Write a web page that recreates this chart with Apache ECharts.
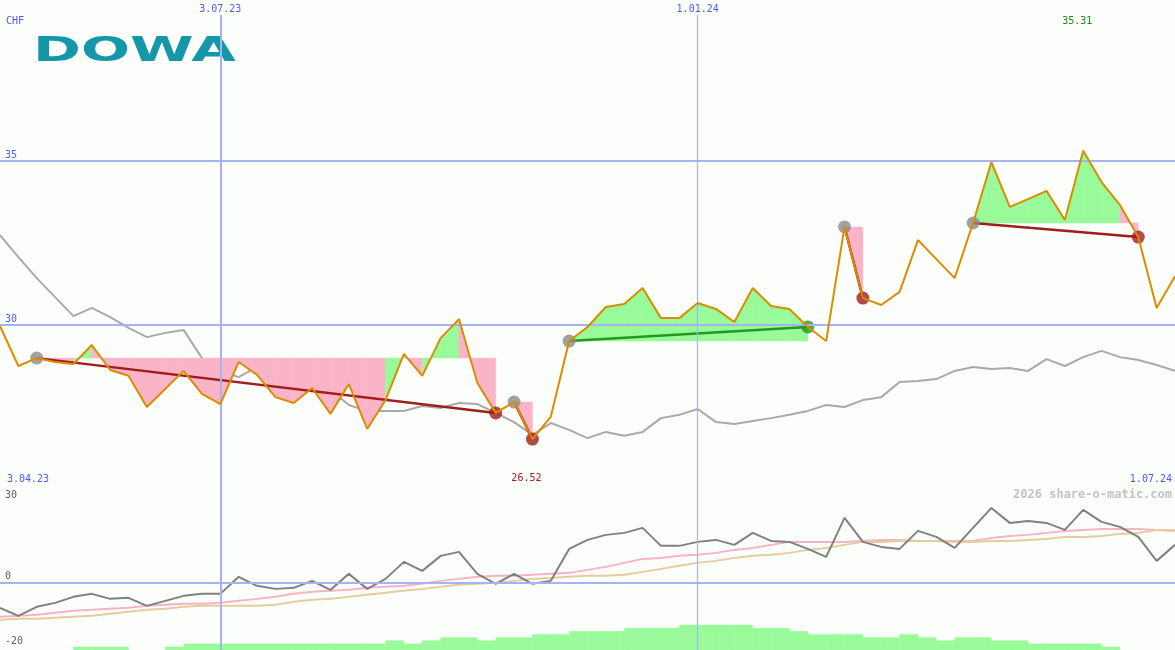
<!DOCTYPE html>
<html><head><meta charset="utf-8">
<script src="https://cdn.jsdelivr.net/npm/echarts@6/dist/echarts.min.js"></script>
<style>html,body{margin:0;padding:0;background:#fcfefc}#c{width:1175px;height:650px}</style>
</head><body><div id="c"></div><script>
// ---------- data ----------
const firstWeek = [2023, 3, 10]; // weekly categories start (UTC y, m0, d)
const weekCount = 65;
const topTicks = ['3.07.23', '1.01.24'];
const cornerLabels = ['3.04.23', '1.07.24'];
const upperTicks = [30, 35];
const lowerLineTicks = [0];
const lowerLabelOnly = [30, -20];
const currency = 'CHF';
const title = 'DOWA';
const credit = '2026 share-o-matic.com';

const price = [29.97, 28.75, 28.99, 28.87, 28.81, 29.39, 28.63, 28.45, 27.50, 28.05,
  28.60, 27.90, 27.59, 28.87, 28.48, 27.80, 27.62, 28.08, 27.29, 28.20,
  26.83, 27.71, 29.12, 28.45, 29.60, 30.18, 28.23, 27.32, 27.65, 26.52,
  27.20, 29.51, 29.94, 30.55, 30.64, 31.13, 30.21, 30.21, 30.67, 30.49,
  30.09, 31.13, 30.58, 30.49, 29.94, 29.51, 32.99, 30.82, 30.61, 31.01,
  32.59, 32.01, 31.43, 33.11, 34.97, 33.60, 33.84, 34.09, 33.20, 35.31,
  34.36, 33.66, 32.68, 30.52, 31.49];
const priceAvg = [32.74, 32.07, 31.43, 30.85, 30.27, 30.52, 30.24, 29.91, 29.63, 29.76,
  29.85, 28.99, 28.60, 28.41, 28.72, 28.41, 28.17, 28.05, 28.02, 27.56,
  27.38, 27.38, 27.38, 27.53, 27.47, 27.62, 27.59, 27.32, 27.04, 26.65,
  27.01, 26.80, 26.55, 26.74, 26.62, 26.74, 27.16, 27.26, 27.44, 27.04,
  26.98, 27.07, 27.16, 27.26, 27.38, 27.56, 27.50, 27.71, 27.80, 28.26,
  28.29, 28.35, 28.60, 28.72, 28.66, 28.69, 28.60, 28.96, 28.75, 29.02,
  29.21, 29.02, 28.93, 28.78, 28.60];
const trendStart = [2, 28, 31, 46, 53];
const trendEnd = [27, 29, 44, 47, 62];

const perf = [-8.52, -11.25, -8.18, -6.82, -4.77, -3.75, -5.46, -5.11, -7.84, -6.14,
  -4.43, -3.75, -3.75, 2.05, -1.02, -2.05, -1.70, 0.68, -2.39, 3.07,
  -2.05, 1.36, 7.16, 4.09, 9.21, 10.57, 3.07, -0.34, 3.07, -0.34,
  0.68, 11.59, 14.66, 16.37, 17.05, 18.75, 12.62, 12.62, 13.98, 14.66,
  12.96, 17.05, 14.32, 13.98, 11.59, 8.86, 22.16, 13.98, 12.27, 11.59,
  17.73, 15.68, 11.93, 18.75, 25.57, 20.46, 21.14, 20.46, 18.07, 24.89,
  20.80, 19.09, 15.68, 7.50, 12.96];
const perfPink = [-11.59, -11.25, -10.91, -10.23, -9.55, -9.21, -8.86, -8.52, -7.84, -7.50,
  -7.16, -7.16, -6.82, -6.14, -5.46, -4.77, -3.75, -3.07, -2.73, -2.39,
  -1.70, -1.36, -1.02, -0.34, 0.68, 1.36, 2.05, 2.39, 2.39, 2.73,
  3.07, 3.41, 4.43, 5.46, 6.82, 8.18, 8.52, 9.21, 9.55, 10.23,
  11.25, 11.93, 12.96, 13.98, 13.98, 13.98, 13.98, 14.32, 14.66, 14.66,
  14.32, 14.32, 14.32, 14.32, 15.34, 16.02, 16.37, 17.05, 17.73, 18.07,
  18.41, 18.41, 18.41, 18.07, 17.73];
const perfTan = [-12.62, -12.27, -12.27, -11.93, -11.59, -11.25, -10.57, -9.89, -9.21, -8.86,
  -8.18, -7.84, -7.84, -7.84, -7.84, -7.50, -6.48, -5.80, -5.46, -4.77,
  -4.09, -3.41, -2.73, -2.05, -1.36, -0.68, -0.34, 0.00, 0.68, 1.36,
  1.70, 2.05, 2.39, 2.39, 2.73, 3.75, 4.77, 5.80, 6.82, 7.50,
  8.52, 9.21, 9.55, 10.23, 11.25, 11.93, 12.96, 13.98, 13.98, 14.32,
  14.32, 14.32, 13.98, 13.98, 14.32, 14.32, 14.66, 15.00, 15.68, 15.68,
  16.02, 16.71, 17.05, 18.07, 18.07];
const volumeLevel = [0, 0, 0, 0, 1, 1, 1, 0, 0, 1,
  2, 2, 2, 2, 2, 2, 2, 2, 2, 2,
  2, 3, 2, 3, 4, 4, 3, 4, 4, 5,
  5, 6, 6, 6, 7, 7, 7, 8, 8, 8,
  8, 7, 7, 6, 5, 5, 5, 4, 4, 5,
  4, 3, 4, 4, 3, 3, 2, 2, 2, 2,
  1, 0, 0, 0];

// ---------- build ----------
const dates = [];
{
  let t = Date.UTC(firstWeek[0], firstWeek[1], firstWeek[2]);
  for (let i = 0; i < weekCount; i++) {
    const d = new Date(t);
    dates.push(d.getUTCDate() + '.' + String(d.getUTCMonth() + 1).padStart(2, '0') + '.' + String(d.getUTCFullYear()).slice(2));
    t += 7 * 86400000;
  }
}
const topTickIdx = topTicks.map(t => dates.indexOf(t));

const BG = '#fcfefc', BLUE = '#4a5cf2', GRIDC = '#a6b2f2', MONO = 'DejaVu Sans Mono';
const FILL_G = '#98fa98', FILL_P = '#fab4c8', DRED = '#a11c1c', DGREEN = '#1f9a1f';
const UP_MIN = 25.06, UP_MAX = 39.91, UP_VTOP = 39.45;
const LO_MIN = -22.9, LO_MAX = 32.7;

const fillData = [];
trendStart.forEach((s, k) => {
  const L = price[s];
  for (let i = s; i < trendEnd[k]; i++) fillData.push([i, price[i], price[i + 1], L]);
});
const trendData = trendStart.map((s, k) => [s, price[s], trendEnd[k], price[trendEnd[k]]]);
const startMarks = trendStart.map(s => [s, price[s]]);
const endMarks = trendEnd.map((e, k) => ({ value: [e, price[e]], itemStyle: { color: price[e] >= price[trendStart[k]] ? DGREEN : DRED } }));
const volData = volumeLevel.map((v, i) => [i, v]).filter(d => d[1] > 0);

const maxVal = Math.max(...price), minVal = Math.min(...price);
const maxIdx = price.indexOf(maxVal), minIdx = price.indexOf(minVal);

const chart = echarts.init(document.getElementById('c'));
const lbl = { fontFamily: MONO, fontSize: 10 };

chart.setOption({
  animation: false,
  backgroundColor: BG,
  grid: [
    { left: 0, right: 0, top: 0, height: 487 },
    { left: 0, right: 0, top: 487, height: 163 },
    { left: 0, right: 0, top: 487, height: 163 }
  ],
  xAxis: [
    { gridIndex: 0, type: 'category', data: dates, boundaryGap: false, position: 'top',
      axisLine: { show: false }, axisTick: { show: false }, splitLine: { show: false },
      axisLabel: Object.assign({ inside: true, margin: 4, color: BLUE, interval: (i) => topTickIdx.includes(i) }, lbl) },
    { gridIndex: 1, type: 'category', data: dates, boundaryGap: false, position: 'top',
      axisLine: { show: true, lineStyle: { color: '#7a88ee', width: 2 } }, axisTick: { show: false },
      axisLabel: { show: false }, splitLine: { show: false } },
    { gridIndex: 2, type: 'category', data: dates, boundaryGap: false, show: false }
  ],
  yAxis: [
    { gridIndex: 0, type: 'value', min: UP_MIN, max: UP_MAX, show: false },
    { gridIndex: 1, type: 'value', min: LO_MIN, max: LO_MAX, show: false },
    { gridIndex: 2, type: 'value', min: 0, max: 52.2, show: false }
  ],
  graphic: [
    { type: 'text', left: 6, top: 16, style: { text: currency, fill: BLUE, font: '10px ' + MONO } },
    { type: 'text', x: 58, y: 62, scaleX: 1.52, scaleY: 0.9, originX: 48, originY: 69,
      style: { text: title, fill: '#1597aa', font: 'bold 38px "DejaVu Sans"', textVerticalAlign: 'bottom' } },
    { type: 'text', left: 7, top: 474, style: { text: cornerLabels[0], fill: BLUE, font: '10px ' + MONO } },
    { type: 'text', right: 3, top: 474, style: { text: cornerLabels[1], fill: BLUE, font: '10px ' + MONO } },
    { type: 'text', right: 3, top: 489, style: { text: credit, fill: '#c2c2c2', font: 'bold 12px ' + MONO } }
  ],
  series: [
    { type: 'line', xAxisIndex: 0, yAxisIndex: 0, data: priceAvg, symbol: 'none', z: 1,
      lineStyle: { color: '#a9a9a9', width: 2 },
      markLine: { silent: true, symbol: 'none',
        data: upperTicks.map(v => ({ yAxis: v, lineStyle: { color: GRIDC, width: 2, type: 'solid' },
          label: Object.assign({ show: true, position: 'insideStartTop', distance: [5, 1], color: BLUE, formatter: String(v) }, lbl) })) } },
    { type: 'custom', xAxisIndex: 0, yAxisIndex: 0, data: fillData, z: 2, silent: true,
      renderItem(params, api) {
        const i = api.value(0), p0 = api.value(1), p1 = api.value(2), L = api.value(3);
        const col = p1 >= L ? FILL_G : FILL_P;
        return { type: 'polygon', shape: { points: [api.coord([i, L]), api.coord([i, p0]), api.coord([i + 1, p1]), api.coord([i + 1, L])] },
          style: { fill: col, stroke: col, lineWidth: 0.5 } };
      } },
    { type: 'custom', xAxisIndex: 0, yAxisIndex: 0, data: trendData, z: 3, silent: true,
      encode: { x: [0, 2], y: [1, 3] },
      renderItem(params, api) {
        const a = api.coord([api.value(0), api.value(1)]), b = api.coord([api.value(2), api.value(3)]);
        return { type: 'line', shape: { x1: a[0], y1: a[1], x2: b[0], y2: b[1] },
          style: { stroke: api.value(3) >= api.value(1) ? DGREEN : DRED, lineWidth: 2.5 } };
      },
      markLine: { silent: true, symbol: 'none',
        data: topTickIdx.map((ix, k) => [
          { coord: [ix, UP_VTOP], lineStyle: { color: GRIDC, width: k === 0 ? 2 : 1.2, type: 'solid' }, label: { show: false } },
          { coord: [ix, UP_MIN] }]) } },
    { type: 'scatter', xAxisIndex: 0, yAxisIndex: 0, data: startMarks, symbolSize: 13, z: 4, silent: true,
      itemStyle: { color: '#8a8a8a' } },
    { type: 'scatter', xAxisIndex: 0, yAxisIndex: 0, data: endMarks, symbolSize: 13, z: 4, silent: true },
    { type: 'line', xAxisIndex: 0, yAxisIndex: 0, data: price, symbol: 'none', z: 5,
      lineStyle: { color: '#dc8c00', width: 2 },
      markPoint: { silent: true, symbol: 'circle', symbolSize: 0,
        data: [
          { coord: [maxIdx, 39.27], value: maxVal, label: { color: '#149014' } },
          { coord: [minIdx, 25.31], value: minVal, label: { color: DRED } }
        ],
        label: Object.assign({ show: true, position: 'inside', offset: [-6, 0], formatter: p => p.value.toFixed(2) }, lbl) } },
    { type: 'custom', xAxisIndex: 2, yAxisIndex: 2, data: volData, z: 1, silent: true,
      renderItem(params, api) {
        const i = api.value(0), v = api.value(1);
        const a = api.coord([i, v]), b = api.coord([i + 1, 0]);
        return { type: 'rect', shape: { x: a[0], y: a[1], width: b[0] - a[0], height: b[1] - a[1] },
          style: { fill: FILL_G, stroke: FILL_G, lineWidth: 0.3 } };
      } },
    { type: 'line', xAxisIndex: 1, yAxisIndex: 1, data: perfPink, symbol: 'none', z: 2,
      lineStyle: { color: '#f8b2c6', width: 2 },
      markLine: { silent: true, symbol: 'none',
        data: lowerLineTicks.map(v => ({ yAxis: v, lineStyle: { color: GRIDC, width: 2, type: 'solid' },
          label: Object.assign({ show: true, position: 'insideStartTop', distance: [5, 1], color: '#606060', formatter: String(v) }, lbl) }))
          .concat(topTickIdx.map((ix, k) => ({ xAxis: ix, lineStyle: { color: GRIDC, width: k === 0 ? 2 : 1.2, type: 'solid' }, label: { show: false } }))) },
      markPoint: { silent: true, symbol: 'circle', symbolSize: 0,
        data: lowerLabelOnly.map(v => ({ coord: [0, v], value: v })),
        label: Object.assign({ show: true, position: 'right', distance: 5, color: '#606060', formatter: p => String(p.value) }, lbl) } },
    { type: 'line', xAxisIndex: 1, yAxisIndex: 1, data: perfTan, symbol: 'none', z: 3,
      lineStyle: { color: '#e4cc9e', width: 2 } },
    { type: 'line', xAxisIndex: 1, yAxisIndex: 1, data: perf, symbol: 'none', z: 4,
      lineStyle: { color: '#808080', width: 2 } }
  ]
});
</script></body></html>
